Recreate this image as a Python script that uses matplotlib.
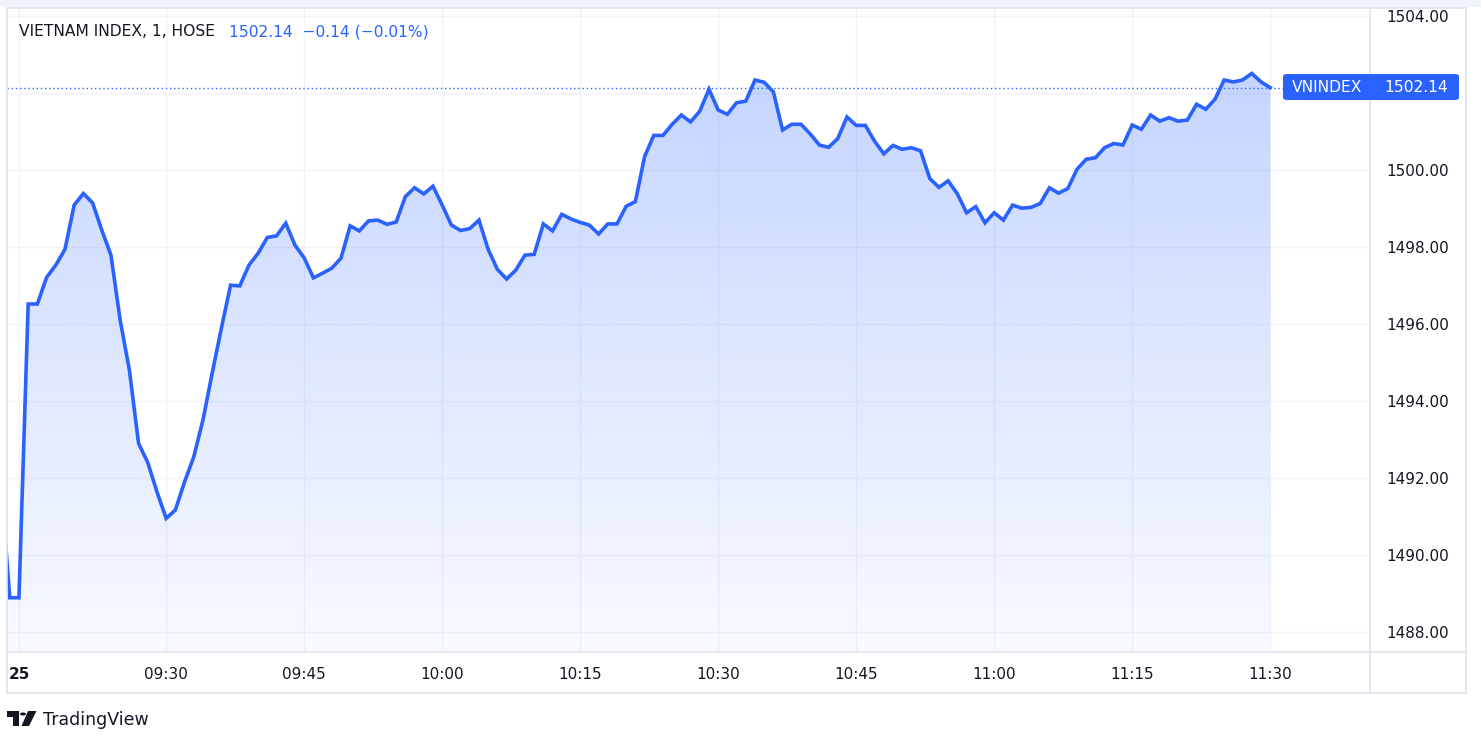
import numpy as np
import matplotlib
matplotlib.use("Agg")
import matplotlib.pyplot as plt
from matplotlib.patches import Rectangle, FancyBboxPatch, Polygon, Circle

# VN-Index 1-minute closes, bar index -2..136 (bar 0 = first bar of the 25th)
bar_index = list(range(-2, 137))
closes = [
    1492.00, 1488.89,
    1488.89, 1496.52, 1496.52, 1497.21, 1497.53, 1497.94, 1499.09, 1499.39, 1499.15, 1498.44,
    1497.79, 1496.10, 1494.81, 1492.90, 1492.40, 1491.64, 1490.95, 1491.17, 1491.90, 1492.55,
    1493.51, 1494.72, 1495.89, 1497.01, 1496.99, 1497.53, 1497.84, 1498.25, 1498.29, 1498.62,
    1498.05, 1497.72, 1497.20, 1497.32, 1497.45, 1497.71, 1498.55, 1498.42, 1498.68, 1498.70,
    1498.59, 1498.65, 1499.31, 1499.54, 1499.38, 1499.58, 1499.09, 1498.57, 1498.43, 1498.48,
    1498.70, 1497.94, 1497.42, 1497.17, 1497.40, 1497.79, 1497.81, 1498.60, 1498.42, 1498.85,
    1498.73, 1498.64, 1498.57, 1498.34, 1498.60, 1498.60, 1499.06, 1499.18, 1500.35, 1500.90,
    1500.90, 1501.19, 1501.43, 1501.25, 1501.53, 1502.10, 1501.56, 1501.45, 1501.75, 1501.79,
    1502.34, 1502.28, 1502.03, 1501.04, 1501.19, 1501.19, 1500.94, 1500.65, 1500.59, 1500.82,
    1501.38, 1501.16, 1501.16, 1500.75, 1500.42, 1500.64, 1500.54, 1500.58, 1500.50, 1499.78,
    1499.55, 1499.72, 1499.38, 1498.89, 1499.05, 1498.63, 1498.89, 1498.70, 1499.09, 1499.01,
    1499.03, 1499.13, 1499.54, 1499.40, 1499.52, 1500.02, 1500.28, 1500.32, 1500.58, 1500.69,
    1500.65, 1501.17, 1501.06, 1501.43, 1501.27, 1501.36, 1501.27, 1501.30, 1501.71, 1501.58,
    1501.84, 1502.34, 1502.29, 1502.34, 1502.51, 1502.29, 1502.14,
]

time_tick_pos = [0, 16, 31, 46, 61, 76, 91, 106, 121, 136]
time_tick_labels = ["25", "09:30", "09:45", "10:00", "10:15", "10:30", "10:45", "11:00", "11:15", "11:30"]
price_ticks = [1488, 1490, 1492, 1494, 1496, 1498, 1500, 1502, 1504]

symbol_title = "VIETNAM INDEX, 1, HOSE"
symbol_name = "VNINDEX"
last_price = 1502.14
change = -0.14
change_pct = -0.01

BLUE = "#2962FF"
TEXT = "#131722"
GRID = "#f0f3fa"
BORDER = "#e0e3eb"

W, H = 1481, 746
fig = plt.figure(figsize=(W / 100, H / 100), dpi=100)
fig.patch.set_facecolor("white")


def fx(x):
    return x / W


def fy(y):
    return 1 - y / H


# plot pane in pixel coordinates of the screenshot
left, right, top, bottom = 7, 1370, 8, 652
ax = fig.add_axes([fx(left), fy(bottom), fx(right - left), (bottom - top) / H])
ax.set_xlim(-1.30, 146.85)
ax.set_ylim(1487.48, 1504.21)

x = np.array(bar_index)
y = np.array(closes)

# gradient area under the line
poly = ax.fill_between(x, y, 1487.48, color="none", lw=0)
n = 256
grad = np.zeros((n, 1, 4))
grad[..., 0] = 41 / 255
grad[..., 1] = 98 / 255
grad[..., 2] = 1.0
grad[:, 0, 3] = np.linspace(0.03, 0.27, n)
im = ax.imshow(grad, extent=[x.min(), x.max(), 1487.48, y.max()], origin="lower",
               aspect="auto", zorder=1)
im.set_clip_path(poly.get_paths()[0], transform=ax.transData)

ax.plot(x, y, color=BLUE, lw=2.6, zorder=3, solid_joinstyle="miter")
ax.axhline(last_price, color=BLUE, lw=1, ls=(0, (1, 2)), zorder=2)

# grid
for p in price_ticks:
    ax.axhline(p, color=GRID, lw=1, zorder=0)
for t in time_tick_pos:
    ax.axvline(t, color=GRID, lw=1, zorder=0)

for s in ax.spines.values():
    s.set_visible(False)

ax.set_xticks(time_tick_pos)
ax.set_xticklabels(time_tick_labels, fontsize=11, color=TEXT)
ax.get_xticklabels()[0].set_fontweight("bold")
ax.tick_params(axis="x", length=0, pad=11)

# the 1502 label sits under the last-price badge, so it is left blank
ax.yaxis.tick_right()
ax.set_yticks(price_ticks)
ax.set_yticklabels(["" if abs(p - last_price) < 0.5 else f"{p:.2f}" for p in price_ticks],
                   fontsize=11, color=TEXT)
ax.tick_params(axis="y", length=0, pad=11.5)

# frame and pane separators
fig.patches.append(Rectangle((0, fy(7)), 1, 7 / H, transform=fig.transFigure,
                             facecolor="#f0f3fa", edgecolor="none"))
fig.patches.append(Rectangle((fx(7), fy(693)), fx(1466 - 7), (693 - 8) / H,
                             transform=fig.transFigure, facecolor="none",
                             edgecolor=BORDER, lw=1.2))
fig.lines.append(plt.Line2D([fx(1370), fx(1370)], [fy(8), fy(693)],
                            transform=fig.transFigure, color=BORDER, lw=1.2))
fig.lines.append(plt.Line2D([fx(7), fx(1466)], [fy(652), fy(652)],
                            transform=fig.transFigure, color=BORDER, lw=1.2))

# legend text at top left
fig.text(fx(19), fy(32), symbol_title, fontsize=11.2, color=TEXT, va="center")
fig.text(fx(229), fy(32), f"{last_price:.2f}  \u2212{abs(change):.2f} (\u2212{abs(change_pct):.2f}%)",
         fontsize=11.2, color=BLUE, va="center")

# last price badge
fig.patches.append(FancyBboxPatch((fx(1283), fy(100)), fx(1459 - 1283), 26 / H,
                                  boxstyle="round,pad=0,rounding_size=0.003",
                                  transform=fig.transFigure, facecolor=BLUE,
                                  edgecolor="none", zorder=5))
fig.text(fx(1292), fy(88), symbol_name, fontsize=11.2, color="white",
         fontweight="medium", va="center", zorder=6)
fig.text(fx(1448), fy(88), f"{last_price:.2f}", fontsize=11.2, color="white",
         fontweight="medium", va="center", ha="right", zorder=6)

# TradingView logo
fig.patches.append(Polygon([(fx(7), fy(711)), (fx(19), fy(711)), (fx(19), fy(726)),
                            (fx(13), fy(726)), (fx(13), fy(717)), (fx(7), fy(717))],
                           closed=True, transform=fig.transFigure, facecolor=TEXT,
                           edgecolor="none"))
fig.patches.append(Circle((fx(23), fy(714)), 3 / W, transform=fig.transFigure,
                          facecolor=TEXT, edgecolor="none"))
fig.patches.append(Polygon([(fx(28), fy(711)), (fx(36.5), fy(711)), (fx(29), fy(726)),
                            (fx(21.5), fy(726))],
                           closed=True, transform=fig.transFigure, facecolor=TEXT,
                           edgecolor="none"))
fig.text(fx(43), fy(720), "TradingView", fontsize=12.5, color=TEXT, va="center")

fig.savefig("out.png", dpi=100)
